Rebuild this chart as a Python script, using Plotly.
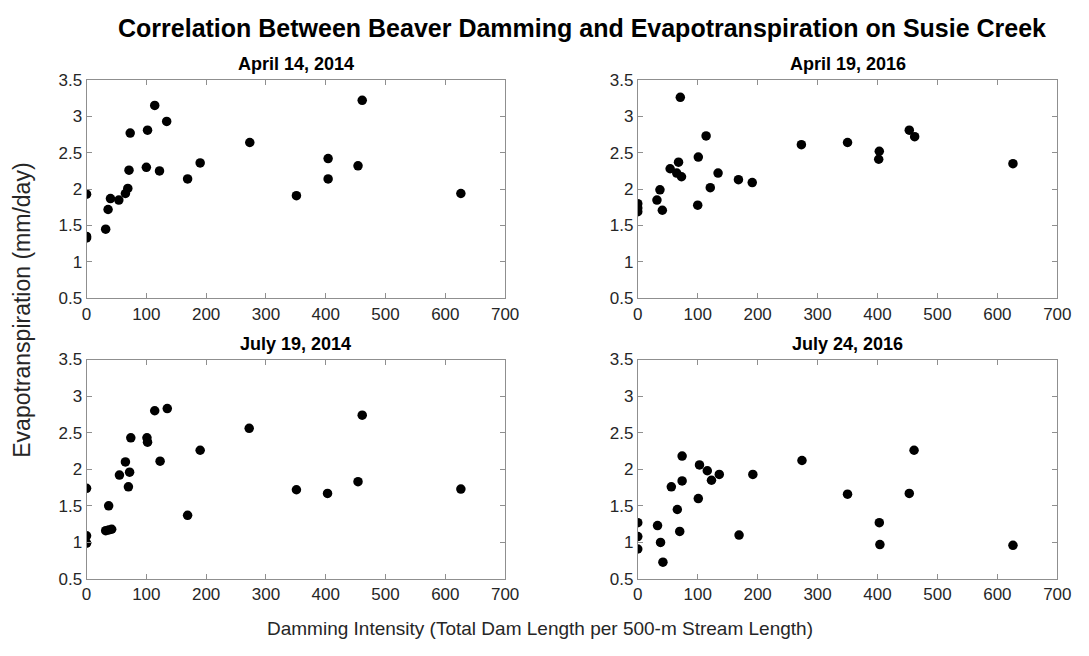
import plotly.graph_objects as go

# ---- data ----
apr14_x = [0, 0, 0, 32, 36, 40, 54, 65, 69, 71, 73, 100, 102, 114, 122, 134, 169, 190, 273, 351, 404, 404, 454, 461, 626]
apr14_y = [1.93, 1.33, 1.35, 1.45, 1.72, 1.87, 1.85, 1.94, 2.01, 2.26, 2.77, 2.30, 2.81, 3.15, 2.25, 2.93, 2.14, 2.36, 2.64, 1.91, 2.42, 2.14, 2.32, 3.22, 1.94]

apr16_x = [0, 0, 0, 32, 37, 41, 54, 65, 68, 73, 71, 100, 101, 114, 121, 134, 168, 191, 273, 350, 403, 402, 453, 462, 626]
apr16_y = [1.80, 1.74, 1.69, 1.85, 1.99, 1.71, 2.28, 2.22, 2.37, 2.17, 3.26, 1.78, 2.44, 2.73, 2.02, 2.22, 2.13, 2.09, 2.61, 2.64, 2.52, 2.41, 2.81, 2.72, 2.35]

jul14_x = [0, 0, 0, 32, 37, 37, 42, 55, 65, 70, 72, 74, 101, 102, 114, 123, 135, 169, 190, 272, 351, 403, 454, 461, 626]
jul14_y = [1.74, 1.09, 0.99, 1.16, 1.50, 1.17, 1.18, 1.92, 2.10, 1.76, 1.96, 2.43, 2.43, 2.37, 2.80, 2.11, 2.83, 1.37, 2.26, 2.56, 1.72, 1.67, 1.83, 2.74, 1.73]

jul16_x = [0, 0, 0, 33, 38, 42, 56, 66, 70, 74, 74, 101, 103, 116, 123, 136, 169, 192, 274, 350, 403, 404, 453, 461, 626]
jul16_y = [1.27, 1.08, 0.91, 1.23, 1.00, 0.73, 1.76, 1.45, 1.15, 1.84, 2.18, 1.60, 2.06, 1.98, 1.85, 1.93, 1.10, 1.93, 2.12, 1.66, 1.27, 0.97, 1.67, 2.26, 0.96]

panel_titles = ["April 14, 2014", "April 19, 2016", "July 19, 2014", "July 24, 2016"]
main_title = "Correlation Between Beaver Damming and Evapotranspiration on Susie Creek"
x_title = "Damming Intensity (Total Dam Length per 500-m Stream Length)"
y_title = "Evapotranspiration (mm/day)"
x_ticks = [0, 100, 200, 300, 400, 500, 600, 700]
y_ticks = [0.5, 1, 1.5, 2, 2.5, 3, 3.5]

W, H = 1089, 656
FONT = "Liberation Sans, Arial, sans-serif"

# panel pixel boxes (left, right, top, bottom)
boxes = [(83, 509, 73, 298), (644, 1071, 73, 298), (83, 509, 361, 587), (644, 1071, 361, 587)]
series = [(apr14_x, apr14_y), (apr16_x, apr16_y), (jul14_x, jul14_y), (jul16_x, jul16_y)]

fig = go.Figure()
layout = dict(
    width=W, height=H,
    margin=dict(l=0, r=0, t=0, b=0),
    paper_bgcolor="white", plot_bgcolor="white",
    showlegend=False,
    font=dict(family=FONT, color="#262626"),
)
annotations = []
for i, ((l, r, t, b), (xs, ys)) in enumerate(zip(boxes, series)):
    n = "" if i == 0 else str(i + 1)
    fig.add_trace(go.Scatter(
        x=xs, y=ys, mode="markers",
        marker=dict(color="black", size=9.5, symbol="circle"),
        xaxis="x" + n, yaxis="y" + n,
    ))
    axcommon = dict(
        showgrid=False, zeroline=False, showline=True, linecolor="#8f8f8f", linewidth=1,
        mirror="allticks", ticks="inside", ticklen=5, tickcolor="#8f8f8f",
        tickfont=dict(family=FONT, size=17, color="#262626"),
    )
    layout["xaxis" + n] = dict(
        axcommon, domain=[l / W, r / W], range=[0, 700], tickvals=x_ticks,
        anchor="y" + n,
    )
    layout["yaxis" + n] = dict(
        axcommon, domain=[(H - b) / H, (H - t) / H], range=[0.5, 3.5], tickvals=y_ticks,
        anchor="x" + n,
    )
    annotations.append(dict(
        text="<b>" + panel_titles[i] + "</b>", x=(l + r) / 2 / W, y=(H - t + 4) / H,
        xref="paper", yref="paper", xanchor="center", yanchor="bottom", showarrow=False,
        font=dict(family=FONT, size=18, color="black"),
    ))

annotations.append(dict(
    text="<b>" + main_title + "</b>", x=0.5 + 43 / W, y=(H - 20) / H,
    xref="paper", yref="paper", xanchor="center", yanchor="middle", showarrow=False,
    font=dict(family=FONT, size=25, color="black"),
))
annotations.append(dict(
    text=x_title, x=0.5 + 0 / W, y=(H - 638) / H,
    xref="paper", yref="paper", xanchor="center", yanchor="middle", showarrow=False,
    font=dict(family=FONT, size=19, color="#262626"),
))
annotations.append(dict(
    text=y_title, x=17 / W, y=(H - 310) / H, textangle=-90,
    xref="paper", yref="paper", xanchor="center", yanchor="middle", showarrow=False,
    font=dict(family=FONT, size=23, color="#262626"),
))
layout["annotations"] = annotations
fig.update_layout(**layout)
fig.write_html("out.html")
